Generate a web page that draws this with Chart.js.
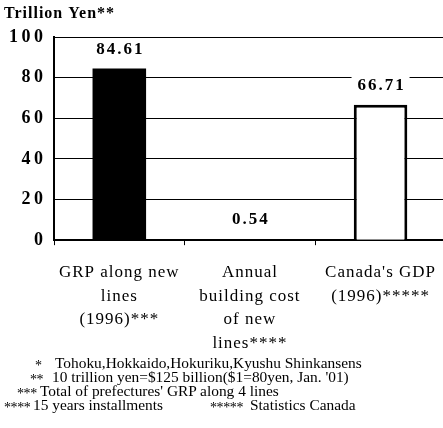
<!DOCTYPE html>
<html>
<head>
<meta charset="utf-8">
<script src="https://cdn.jsdelivr.net/npm/chart.js@4"></script>
<style>
  html, body { margin: 0; padding: 0; background: #fff; overflow: hidden; }
  #wrap { position: absolute; left: 0; top: 0; width: 446px; height: 428px; }
  .note { position: absolute; font-family: "Liberation Serif", serif; font-size: 15.4px; line-height: 14px; white-space: pre; color: #000; }
  .star { position: absolute; font-family: "Liberation Serif", serif; font-size: 14px; line-height: 14px; white-space: pre; color: #000; letter-spacing: -0.4px; }
</style>
</head>
<body>
<div id="wrap"><canvas id="chart"></canvas></div>
<div class="star" style="left:35px; top:359px;">*</div>
<div class="note" style="left:55px; top:356px;">Tohoku,Hokkaido,Hokuriku,Kyushu Shinkansens</div>
<div class="star" style="left:30px; top:373px;">**</div>
<div class="note" style="left:52px; top:370px;">10 trillion yen=$125 billion($1=80yen, Jan. '01)</div>
<div class="star" style="left:17px; top:387px;">***</div>
<div class="note" style="left:40px; top:384px;">Total of prefectures' GRP along 4 lines</div>
<div class="star" style="left:4px; top:401px;">****</div>
<div class="note" style="left:33px; top:398px;">15 years installments</div>
<div class="star" style="left:210px; top:401px;">*****</div>
<div class="note" style="left:250px; top:398px;">Statistics Canada</div>
<script>
const categories = [
    ['GRP along new', 'lines', '(1996)***'],
    ['Annual', 'building cost', 'of new', 'lines****'],
    ["Canada's GDP", '(1996)*****']
];
const values = [84.61, 0.54, 66.71];
const valueLabels = ['84.61', '0.54', '66.71'];
const yTicks = [0, 20, 40, 60, 80, 100];

// letter spacing for every text the chart draws
const spacingPlugin = {
    id: 'spacing',
    beforeDraw(chart) {
        chart.ctx.letterSpacing = '1px';
    }
};

// value labels above bars, on a white box
const valuePlugin = {
    id: 'values',
    afterDatasetsDraw(chart) {
        const ctx = chart.ctx;
        const meta = chart.getDatasetMeta(0);
        ctx.save();
        ctx.letterSpacing = '2px';
        ctx.font = 'bold 17px "Liberation Serif", serif';
        ctx.textAlign = 'center';
        ctx.textBaseline = 'middle';
        meta.data.forEach((bar, i) => {
            const y = bar.y - 19;
            ctx.fillStyle = '#fff';
            ctx.fillRect(bar.x - 29, y - 10, 58, 20);
            ctx.fillStyle = '#000';
            ctx.fillText(valueLabels[i], bar.x + 1, y);
        });
        ctx.restore();
    }
};

const ctx = document.getElementById('chart').getContext('2d');
new Chart(ctx, {
    type: 'bar',
    data: {
        labels: categories,
        datasets: [{
            data: values,
            backgroundColor: ['#000', '#000', '#fff'],
            borderColor: '#000',
            borderWidth: [0, 0, 3],
            categoryPercentage: 1,
            barPercentage: 0.41
        }]
    },
    options: {
        responsive: true,
        maintainAspectRatio: false,
        animation: false,
        layout: { padding: { left: 4, right: 0, top: 2, bottom: 57 } },
        plugins: {
            legend: { display: false },
            tooltip: { enabled: false },
            title: {
                display: true,
                text: 'Trillion Yen**',
                align: 'start',
                color: '#000',
                font: { family: '"Liberation Serif", serif', size: 16, weight: 'bold' },
                padding: { top: 2, bottom: 14 }
            }
        },
        scales: {
            x: {
                grid: { offset: true, drawOnChartArea: false, color: '#000', tickLength: 5 },
                border: { color: '#000', width: 2 },
                ticks: {
                    color: '#000',
                    padding: 16,
                    maxRotation: 0,
                    autoSkip: false,
                    font: { family: '"Liberation Serif", serif', size: 17, lineHeight: 1.38 }
                }
            },
            y: {
                min: 0,
                max: 100,
                afterBuildTicks: axis => { axis.ticks = yTicks.map(v => ({ value: v })); },
                grid: { color: '#000', drawTicks: false, lineWidth: 1 },
                border: { color: '#000', width: 2 },
                ticks: {
                    color: '#000',
                    padding: 10,
                    callback: v => String(v).split('').join('\u200A'),
                    font: { family: '"Liberation Serif", serif', size: 18, weight: 'bold' }
                }
            }
        }
    },
    plugins: [spacingPlugin, valuePlugin]
});
</script>
</body>
</html>
